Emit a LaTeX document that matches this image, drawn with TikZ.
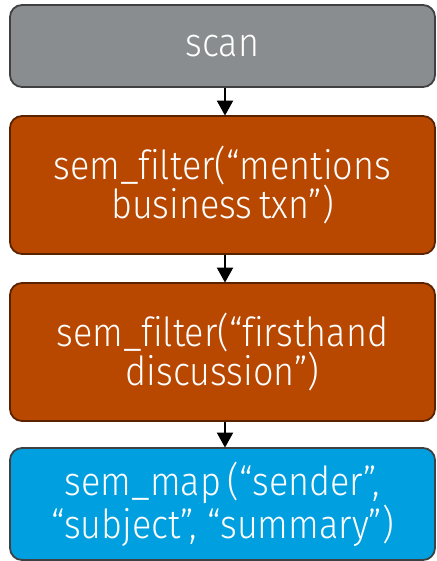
\documentclass[tikz,border=0pt]{standalone}
\usepackage{fontspec}
\setmainfont{Fira Sans Light}[Ligatures=NoCommon, FakeStretch=0.9]
\usetikzlibrary{arrows.meta}
\definecolor{scangray}{HTML}{8A8D8F}
\definecolor{edgegray}{HTML}{3F4042}
\definecolor{filterorange}{HTML}{B84700}
\definecolor{filteredge}{HTML}{5A2300}
\definecolor{mapblue}{HTML}{009FDF}
\tikzset{
  opbox/.style={draw, line width=1.8pt, rounded corners=12pt, minimum width=425pt,
    text=white, font=\fontsize{40}{37}\selectfont, align=center, inner sep=0pt},
  flow/.style={line width=2pt, -{Triangle[length=15pt,width=16pt]}, shorten >=-0.5pt}
}
\begin{document}
\begin{tikzpicture}[x=1pt,y=-1pt]
\useasboundingbox (0,0) rectangle (436,561);
\node[opbox, fill=scangray, draw=edgegray, minimum height=82pt] (scan) at (222.5,46) {\raisebox{-2pt}{scan}};
\node[opbox, fill=filterorange, draw=filteredge, minimum height=138pt] (f1) at (222.5,185) {sem\_filter(“mentions\\business\,txn”)};
\node[opbox, fill=filterorange, draw=filteredge, minimum height=138pt] (f2) at (222.5,352) {sem\_filter(“firsthand\\discussion”)};
\node[opbox, fill=mapblue, draw=edgegray, minimum height=112pt] (map) at (222.5,504) {sem\_map\,(“sender”,\\“subject”, “summary”)};
\draw[flow] ([xshift=2.5pt]scan.south) -- ([xshift=2.5pt]f1.north);
\draw[flow] ([xshift=2.5pt]f1.south) -- ([xshift=2.5pt]f2.north);
\draw[flow] ([xshift=2.5pt]f2.south) -- ([xshift=2.5pt]map.north);
\end{tikzpicture}
\end{document}
